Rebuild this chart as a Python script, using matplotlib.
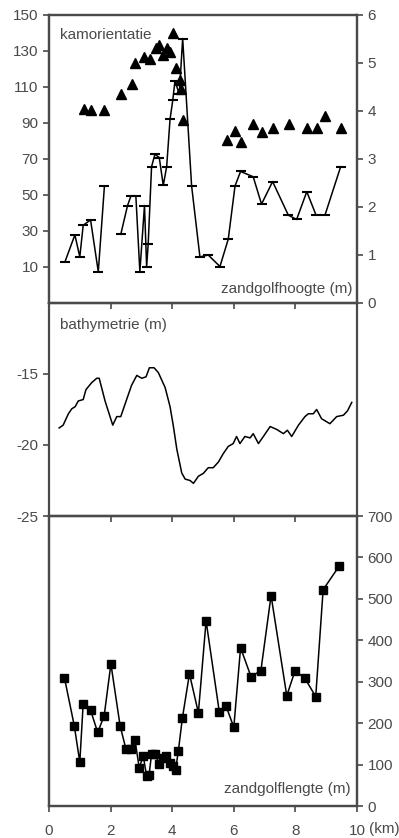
import numpy as np
import matplotlib.pyplot as plt

plt.rcParams['font.family'] = ['Liberation Sans', 'DejaVu Sans']
plt.rcParams['axes.unicode_minus'] = False

# zandgolfhoogte (m), right axis of top panel; nan = gap in the line
hoogte_km = [0.52, 0.84, 1.0, 1.11, 1.35, 1.6, 1.8, np.nan,
             2.33, 2.55, 2.66, 2.82, 2.95, 3.1, 3.17, 3.22, 3.33, 3.44, 3.58, 3.71, 3.82,
             3.93, 4.02, 4.09, 4.23, 4.34, 4.63, 4.9, 5.17, 5.55, 5.82, 6.04, 6.22,
             6.63, 6.9, 7.26, 7.77, 8.04, 8.37, 8.67, 8.96, 9.47]
hoogte = [0.86, 1.42, 0.96, 1.62, 1.73, 0.65, 2.44, np.nan,
          1.43, 2.03, 2.23, 2.23, 0.65, 2.03, 0.76, 1.22, 2.84, 3.1, 3.03, 2.45, 2.84,
          3.83, 4.23, 4.63, 4.35, 5.51, 2.44, 0.96, 1.0, 0.76, 1.33, 2.44, 2.74,
          2.63, 2.06, 2.53, 1.83, 1.74, 2.32, 1.83, 1.83, 2.84]

# kamorientatie, left axis of top panel
orient_km = [1.15, 1.35, 1.8, 2.34, 2.7, 2.79, 3.08, 3.28, 3.47, 3.58, 3.69, 3.82,
             3.93, 4.04, 4.12, 4.25, 4.3, 4.36, 5.79, 6.04, 6.22, 6.61, 6.93, 7.26,
             7.79, 8.37, 8.69, 8.96, 9.47]
orient = [98, 97.4, 97.4, 106, 111.9, 123.4, 126.7, 125.3, 131.4, 133.3, 127.7, 131.4,
          129.5, 139.8, 120.6, 113.7, 109, 91.8, 80.7, 85.3, 79.3, 89.6, 84.9, 87.1,
          89.6, 87.1, 87.1, 93.8, 87.1]

# bathymetrie (m)
bathy_km = [0.33, 0.46, 0.63, 0.74, 0.85, 0.95, 1.11, 1.2, 1.39, 1.55, 1.63, 1.82,
            2.07, 2.2, 2.33, 2.52, 2.68, 2.85, 3.01, 3.15, 3.26, 3.41, 3.55, 3.77,
            3.93, 4.04, 4.15, 4.31, 4.42, 4.58, 4.69, 4.85, 5.01, 5.17, 5.33, 5.5,
            5.66, 5.82, 5.98, 6.09, 6.2, 6.36, 6.53, 6.63, 6.8, 6.96, 7.18, 7.39,
            7.61, 7.74, 7.88, 8.1, 8.31, 8.42, 8.58, 8.69, 8.85, 9.12, 9.34, 9.56,
            9.69, 9.83]
bathy = [-18.8, -18.6, -17.8, -17.45, -17.3, -16.9, -16.8, -16.1, -15.6, -15.3, -15.3, -16.9,
         -18.6, -18.0, -18.0, -16.8, -15.8, -15.1, -15.3, -15.2, -14.56, -14.56, -14.9, -15.95,
         -17.3, -18.7, -20.3, -21.97, -22.4, -22.5, -22.7, -22.2, -22.0, -21.6, -21.6, -21.2,
         -20.6, -20.1, -19.9, -19.4, -19.9, -19.4, -19.5, -19.2, -19.9, -19.4, -18.7, -18.9,
         -19.2, -18.96, -19.4, -18.6, -18.0, -17.8, -17.8, -17.5, -18.15, -18.5, -18.0, -17.9,
         -17.6, -17.0]

# zandgolflengte (m)
lengte_km = [0.5, 0.82, 1.0, 1.11, 1.35, 1.58, 1.79, 2.01, 2.31, 2.5, 2.66, 2.79,
             2.93, 3.06, 3.17, 3.25, 3.33, 3.44, 3.58, 3.71, 3.8, 3.93, 4.02, 4.11,
             4.2, 4.33, 4.56, 4.85, 5.1, 5.53, 5.75, 6.0, 6.22, 6.56, 6.88, 7.21,
             7.72, 7.99, 8.31, 8.66, 8.9, 9.42]
lengte = [310, 194, 106, 247, 231, 178, 217, 343, 193, 137, 137, 160,
          92, 121, 72, 76, 125, 125, 102, 117, 121, 104, 96, 88,
          133, 212, 319, 225, 447, 227, 241, 190, 382, 312, 327, 508,
          266, 327, 308, 264, 522, 579]

grey = '#4a4a4a'
fs = 11

fig = plt.figure(figsize=(3.99, 8.38), dpi=100)
left, width = 49 / 399, 308 / 399
ax1 = fig.add_axes([left, 1 - 303 / 838, width, 288 / 838])
ax2 = fig.add_axes([left, 1 - 516 / 838, width, 213 / 838])
ax3 = fig.add_axes([left, 1 - 806 / 838, width, 290 / 838])
ax1r = ax1.twinx()
ax3r = ax3.twinx()

for ax in [ax1, ax2, ax3, ax1r, ax3r]:
    ax.set_xlim(0, 10)
    ax.set_xticks(range(0, 11, 2))
    for s in ax.spines.values():
        s.set_color(grey)
        s.set_linewidth(1.6)
    ax.tick_params(colors=grey, labelsize=fs, direction='out', length=4, width=1.2)
    ax.set_facecolor('none')

# top panel
ax1.plot(orient_km, orient, linestyle='none', marker='^', color='black', markersize=6.5)
ax1.set_ylim(-10, 150)
ax1.set_yticks(range(10, 151, 20))
ax1.tick_params(axis='x', labelbottom=False)
ax1r.plot(hoogte_km, hoogte, color='black', linewidth=1.1, marker='_', markersize=7,
          markeredgewidth=1.5)
ax1r.set_ylim(0, 6)
ax1r.set_yticks(range(0, 7))
ax1r.tick_params(axis='x', labelbottom=False)
ax1.text(0.035, 0.955, 'kamorientatie', transform=ax1.transAxes, fontsize=fs,
         color=grey, va='top', ha='left')
ax1.text(0.985, 0.025, 'zandgolfhoogte (m)', transform=ax1.transAxes, fontsize=fs,
         color=grey, va='bottom', ha='right')

# middle panel
ax2.plot(bathy_km, bathy, color='black', linewidth=1.1)
ax2.set_ylim(-25, -10)
ax2.set_yticks([-25, -20, -15])
ax2.tick_params(axis='x', labelbottom=False)
ax2.text(0.035, 0.93, 'bathymetrie (m)', transform=ax2.transAxes, fontsize=fs,
         color=grey, va='top', ha='left')

# bottom panel
ax3.set_yticks([])
ax3r.plot(lengte_km, lengte, color='black', linewidth=1.1, marker='s', markersize=5.5)
ax3r.set_ylim(0, 700)
ax3r.set_yticks(range(0, 701, 100))
ax3.set_xticklabels(['0', '2', '4', '6', '8', '10'])
ax3.tick_params(axis='x', pad=9)
ax3r.tick_params(axis='x', labelbottom=False)
ax3.text(0.98, 0.035, 'zandgolflengte (m)', transform=ax3.transAxes, fontsize=fs,
         color=grey, va='bottom', ha='right')
fig.text(369 / 399, 1 - 829 / 838, '(km)', fontsize=fs, color=grey, va='center', ha='left')

fig.savefig('out.png', dpi=100)
